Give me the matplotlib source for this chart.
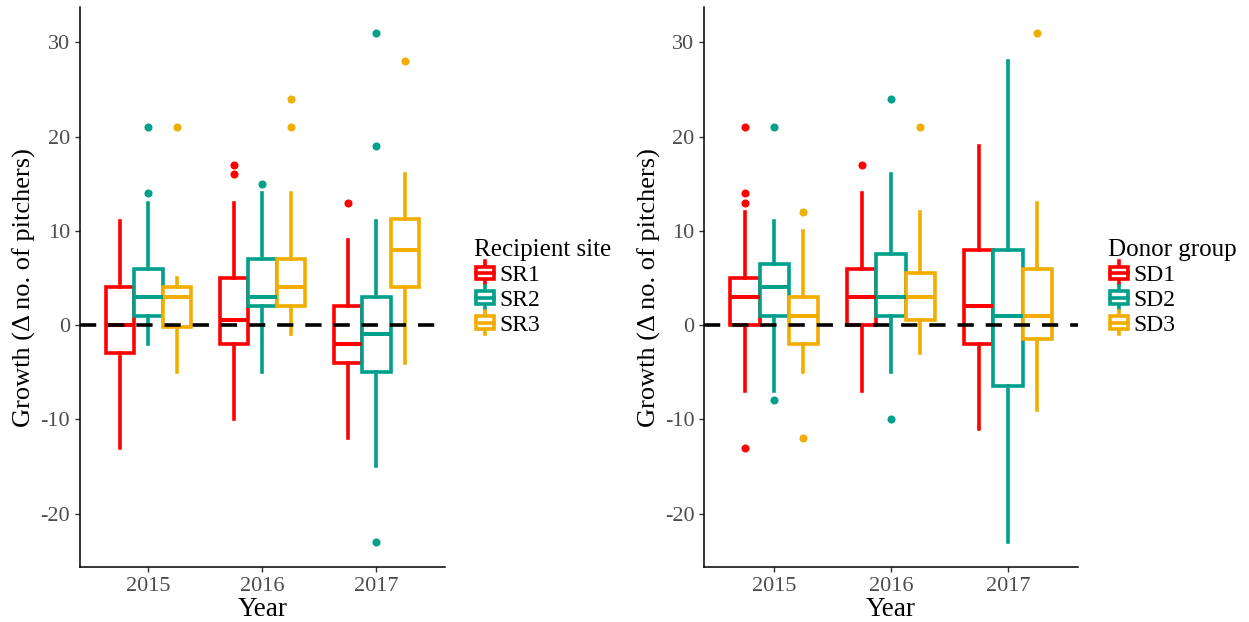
import matplotlib
matplotlib.use('Agg')
import matplotlib.pyplot as plt
from matplotlib.legend_handler import HandlerBase
from matplotlib.lines import Line2D
from matplotlib.patches import Rectangle

plt.rcParams['font.family'] = ['Liberation Serif', 'DejaVu Serif']
plt.rcParams['axes.unicode_minus'] = False

years = ['2015', '2016', '2017']
colors = ['#FF0000', '#00A08A', '#F2AD00']

# recipient site panel: whislo, q1, med, q3, whishi per year
sr_names = ['SR1', 'SR2', 'SR3']
sr_whislo = [[-13, -10, -12], [-2, -5, -15], [-5, -1, -4]]
sr_q1 = [[-3, -2, -4], [1, 2, -5], [-0.25, 2, 4]]
sr_med = [[0, 0.5, -2], [3, 3, -1], [3, 4, 8]]
sr_q3 = [[4, 5, 2], [6, 7, 3], [4, 7, 11.25]]
sr_whishi = [[11, 13, 9], [13, 14, 11], [5, 14, 16]]
sr_fliers = [[[], [17, 16], [13]],
             [[21, 14], [15], [31, 19, -23]],
             [[21], [24, 21], [28]]]

# donor group panel
sd_names = ['SD1', 'SD2', 'SD3']
sd_whislo = [[-7, -7, -11], [-7, -5, -23], [-5, -3, -9]]
sd_q1 = [[0, 0, -2], [1, 1, -6.5], [-2, 0.5, -1.5]]
sd_med = [[3, 3, 2], [4, 3, 1], [1, 3, 1]]
sd_q3 = [[5, 6, 8], [6.5, 7.5, 8], [3, 5.5, 6]]
sd_whishi = [[12, 14, 19], [11, 16, 28], [10, 12, 13]]
sd_fliers = [[[21, 14, 13, -13], [17], []],
             [[21, -8], [24, -10], []],
             [[12, -12], [21], [31]]]

LW = 2.6


class BoxHandler(HandlerBase):
    def __init__(self, color):
        super().__init__()
        self.color = color

    def create_artists(self, legend, orig_handle, xdescent, ydescent,
                       width, height, fontsize, trans):
        c = self.color
        cx = width / 2 - xdescent
        bw = width * 0.8
        y0 = -ydescent
        rect = Rectangle((cx - bw / 2, y0 + height * 0.2), bw, height * 0.6,
                         facecolor='white', edgecolor=c, lw=LW, transform=trans)
        med = Line2D([cx - bw / 2, cx + bw / 2], [y0 + height / 2] * 2,
                     color=c, lw=LW, transform=trans)
        w1 = Line2D([cx, cx], [y0 - height * 0.05, y0 + height * 0.2],
                    color=c, lw=LW, transform=trans)
        w2 = Line2D([cx, cx], [y0 + height * 0.8, y0 + height * 1.05],
                    color=c, lw=LW, transform=trans)
        return [w1, w2, rect, med]


def panel(ax, names, whislo, q1, med, q3, whishi, fliers, title):
    for g in range(3):
        stats = []
        for i in range(3):
            stats.append(dict(whislo=whislo[g][i], q1=q1[g][i], med=med[g][i],
                              q3=q3[g][i], whishi=whishi[g][i], fliers=fliers[g][i]))
        pos = [i + 1 + (g - 1) * 0.25 for i in range(3)]
        c = colors[g]
        ax.bxp(stats, positions=pos, widths=0.25, showcaps=False, patch_artist=True,
               boxprops=dict(facecolor='white', edgecolor=c, lw=LW),
               whiskerprops=dict(color=c, lw=LW),
               medianprops=dict(color=c, lw=LW + 0.3),
               flierprops=dict(marker='o', markerfacecolor=c, markeredgecolor=c,
                               markersize=4.8, linestyle='none'),
               manage_ticks=False)
    ax.axhline(0, color='black', lw=2.6, ls=(0, (4.5, 3.3)), zorder=5)
    ax.set_xlim(0.4, 3.6)
    ax.set_ylim(-25.7, 33.7)
    ax.set_xticks([1, 2, 3])
    ax.set_xticklabels(years)
    ax.set_yticks([-20, -10, 0, 10, 20, 30])
    ax.tick_params(labelsize=16, labelcolor='#4D4D4D', length=3.5, width=1, color='#333333')
    for s in ['top', 'right']:
        ax.spines[s].set_visible(False)
    for s in ['left', 'bottom']:
        ax.spines[s].set_linewidth(1.1)
    ax.set_xlabel('Year', fontsize=19.5, labelpad=1)
    ax.set_ylabel('Growth (Δ no. of pitchers)', fontsize=19, labelpad=3)
    handles = [Rectangle((0, 0), 1, 1) for _ in names]
    hmap = {h: BoxHandler(colors[k]) for k, h in enumerate(handles)}
    leg = ax.legend(handles, names, title=title, loc='center left',
                    bbox_to_anchor=(1.08, 0.5), frameon=False, fontsize=17,
                    title_fontsize=18, handler_map=hmap, handlelength=0.95,
                    handleheight=1.0, handletextpad=0.12, labelspacing=0.05,
                    borderaxespad=0, borderpad=0)
    leg._legend_box.align = 'left'


fig = plt.figure(figsize=(12.49, 6.22), dpi=100)
ax1 = fig.add_axes([0.064, 0.088, 0.292, 0.9])
ax2 = fig.add_axes([0.5637, 0.088, 0.2994, 0.9])
panel(ax1, sr_names, sr_whislo, sr_q1, sr_med, sr_q3, sr_whishi, sr_fliers, 'Recipient site')
panel(ax2, sd_names, sd_whislo, sd_q1, sd_med, sd_q3, sd_whishi, sd_fliers, 'Donor group')

fig.savefig('out.png', dpi=100)
